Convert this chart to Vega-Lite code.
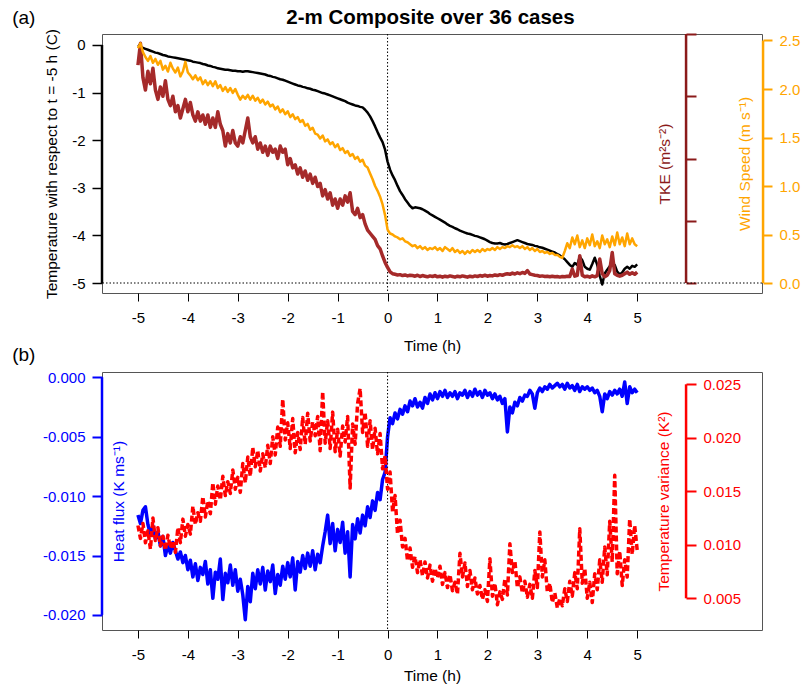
{
  "$schema": "https://vega.github.io/schema/vega-lite/v6.json",
  "autosize": {"type": "pad"},
  "padding": {"left": 11, "top": 7, "right": 0, "bottom": 0},
  "background": "white",
  "bounds": "flush",
  "spacing": 79,
  "config": {
    "view": {"stroke": "#555", "strokeWidth": 1},
    "font": "Liberation Sans",
    "axis": {"labelFont": "Liberation Sans", "labelFontSize": 15, "titleFont": "Liberation Sans", "titleFontSize": 15.5, "titleFontWeight": "normal", "grid": false, "labelColor": "black", "titleColor": "black", "tickColor": "black"}
  },
  "datasets": {
    "a": [
      {"t":-5.00,"T":0.00,"W":2.42,"K":0.70},{"t":-4.95,"T":-0.04,"W":2.47,"K":0.77},{"t":-4.90,"T":-0.06,"W":2.38,"K":0.66},{"t":-4.85,"T":-0.08,"W":2.33,"K":0.62},{"t":-4.80,"T":-0.10,"W":2.29,"K":0.68},{"t":-4.75,"T":-0.12,"W":2.34,"K":0.64},{"t":-4.70,"T":-0.14,"W":2.27,"K":0.69},{"t":-4.65,"T":-0.16,"W":2.31,"K":0.62},{"t":-4.60,"T":-0.17,"W":2.25,"K":0.59},{"t":-4.55,"T":-0.19,"W":2.29,"K":0.63},
      {"t":-4.50,"T":-0.21,"W":2.20,"K":0.60},{"t":-4.45,"T":-0.22,"W":2.24,"K":0.65},{"t":-4.40,"T":-0.24,"W":2.18,"K":0.59},{"t":-4.35,"T":-0.25,"W":2.27,"K":0.57},{"t":-4.30,"T":-0.26,"W":2.21,"K":0.60},{"t":-4.25,"T":-0.27,"W":2.17,"K":0.55},{"t":-4.20,"T":-0.28,"W":2.22,"K":0.57},{"t":-4.15,"T":-0.29,"W":2.13,"K":0.53},{"t":-4.10,"T":-0.30,"W":2.18,"K":0.56},{"t":-4.05,"T":-0.31,"W":2.28,"K":0.59},
      {"t":-4.00,"T":-0.32,"W":2.17,"K":0.55},{"t":-3.95,"T":-0.33,"W":2.14,"K":0.58},{"t":-3.90,"T":-0.35,"W":2.10,"K":0.54},{"t":-3.85,"T":-0.36,"W":2.14,"K":0.52},{"t":-3.80,"T":-0.37,"W":2.09,"K":0.55},{"t":-3.75,"T":-0.38,"W":2.12,"K":0.52},{"t":-3.70,"T":-0.40,"W":2.05,"K":0.54},{"t":-3.65,"T":-0.41,"W":2.09,"K":0.51},{"t":-3.60,"T":-0.43,"W":2.04,"K":0.54},{"t":-3.55,"T":-0.44,"W":2.08,"K":0.50},
      {"t":-3.50,"T":-0.46,"W":2.03,"K":0.53},{"t":-3.45,"T":-0.47,"W":2.08,"K":0.50},{"t":-3.40,"T":-0.49,"W":2.01,"K":0.55},{"t":-3.35,"T":-0.50,"W":2.04,"K":0.51},{"t":-3.30,"T":-0.51,"W":1.98,"K":0.49},{"t":-3.25,"T":-0.52,"W":2.02,"K":0.44},{"t":-3.20,"T":-0.52,"W":1.97,"K":0.48},{"t":-3.15,"T":-0.53,"W":2.01,"K":0.45},{"t":-3.10,"T":-0.54,"W":1.96,"K":0.49},{"t":-3.05,"T":-0.54,"W":2.00,"K":0.45},
      {"t":-3.00,"T":-0.55,"W":1.94,"K":0.44},{"t":-2.95,"T":-0.55,"W":1.89,"K":0.47},{"t":-2.90,"T":-0.56,"W":1.93,"K":0.45},{"t":-2.85,"T":-0.55,"W":1.90,"K":0.49},{"t":-2.80,"T":-0.55,"W":1.94,"K":0.53},{"t":-2.75,"T":-0.56,"W":1.89,"K":0.47},{"t":-2.70,"T":-0.57,"W":1.93,"K":0.45},{"t":-2.65,"T":-0.58,"W":1.88,"K":0.47},{"t":-2.60,"T":-0.59,"W":1.91,"K":0.43},{"t":-2.55,"T":-0.60,"W":1.86,"K":0.45},
      {"t":-2.50,"T":-0.61,"W":1.89,"K":0.42},{"t":-2.45,"T":-0.62,"W":1.84,"K":0.44},{"t":-2.40,"T":-0.64,"W":1.87,"K":0.41},{"t":-2.35,"T":-0.65,"W":1.82,"K":0.44},{"t":-2.30,"T":-0.67,"W":1.84,"K":0.42},{"t":-2.25,"T":-0.68,"W":1.79,"K":0.43},{"t":-2.20,"T":-0.70,"W":1.82,"K":0.40},{"t":-2.15,"T":-0.72,"W":1.76,"K":0.44},{"t":-2.10,"T":-0.73,"W":1.79,"K":0.42},{"t":-2.05,"T":-0.75,"W":1.74,"K":0.43},
      {"t":-2.00,"T":-0.77,"W":1.77,"K":0.38},{"t":-1.95,"T":-0.79,"W":1.71,"K":0.40},{"t":-1.90,"T":-0.81,"W":1.74,"K":0.37},{"t":-1.85,"T":-0.83,"W":1.69,"K":0.38},{"t":-1.80,"T":-0.85,"W":1.71,"K":0.35},{"t":-1.75,"T":-0.86,"W":1.66,"K":0.37},{"t":-1.70,"T":-0.88,"W":1.68,"K":0.34},{"t":-1.65,"T":-0.89,"W":1.62,"K":0.36},{"t":-1.60,"T":-0.91,"W":1.64,"K":0.33},{"t":-1.55,"T":-0.92,"W":1.58,"K":0.35},
      {"t":-1.50,"T":-0.94,"W":1.60,"K":0.32},{"t":-1.45,"T":-0.95,"W":1.54,"K":0.34},{"t":-1.40,"T":-0.97,"W":1.53,"K":0.31},{"t":-1.35,"T":-0.99,"W":1.49,"K":0.32},{"t":-1.30,"T":-1.01,"W":1.52,"K":0.28},{"t":-1.25,"T":-1.02,"W":1.46,"K":0.30},{"t":-1.20,"T":-1.04,"W":1.48,"K":0.27},{"t":-1.15,"T":-1.06,"W":1.43,"K":0.29},{"t":-1.10,"T":-1.08,"W":1.45,"K":0.25},{"t":-1.05,"T":-1.10,"W":1.40,"K":0.27},
      {"t":-1.00,"T":-1.12,"W":1.43,"K":0.24},{"t":-0.95,"T":-1.14,"W":1.37,"K":0.27},{"t":-0.90,"T":-1.16,"W":1.39,"K":0.25},{"t":-0.85,"T":-1.18,"W":1.34,"K":0.28},{"t":-0.80,"T":-1.21,"W":1.36,"K":0.26},{"t":-0.75,"T":-1.23,"W":1.31,"K":0.29},{"t":-0.70,"T":-1.25,"W":1.33,"K":0.23},{"t":-0.65,"T":-1.27,"W":1.28,"K":0.22},{"t":-0.60,"T":-1.28,"W":1.30,"K":0.24},{"t":-0.55,"T":-1.30,"W":1.25,"K":0.21},
      {"t":-0.50,"T":-1.31,"W":1.27,"K":0.22},{"t":-0.45,"T":-1.36,"W":1.21,"K":0.19},{"t":-0.40,"T":-1.42,"W":1.19,"K":0.17},{"t":-0.35,"T":-1.50,"W":1.13,"K":0.16},{"t":-0.30,"T":-1.60,"W":1.07,"K":0.15},{"t":-0.25,"T":-1.71,"W":1.00,"K":0.14},{"t":-0.20,"T":-1.83,"W":0.95,"K":0.12},{"t":-0.15,"T":-1.94,"W":0.89,"K":0.11},{"t":-0.10,"T":-2.04,"W":0.81,"K":0.087},{"t":-0.05,"T":-2.20,"W":0.70,"K":0.066},
      {"t":0.00,"T":-2.45,"W":0.55,"K":0.050},{"t":0.05,"T":-2.62,"W":0.51,"K":0.036},{"t":0.10,"T":-2.74,"W":0.50,"K":0.030},{"t":0.15,"T":-2.84,"W":0.48,"K":0.028},{"t":0.20,"T":-2.96,"W":0.47,"K":0.026},{"t":0.25,"T":-3.07,"W":0.45,"K":0.027},{"t":0.30,"T":-3.15,"W":0.46,"K":0.024},{"t":0.35,"T":-3.24,"W":0.43,"K":0.026},{"t":0.40,"T":-3.31,"W":0.42,"K":0.023},{"t":0.45,"T":-3.38,"W":0.40,"K":0.025},
      {"t":0.50,"T":-3.43,"W":0.38,"K":0.024},{"t":0.55,"T":-3.41,"W":0.39,"K":0.022},{"t":0.60,"T":-3.42,"W":0.36,"K":0.025},{"t":0.65,"T":-3.43,"W":0.38,"K":0.021},{"t":0.70,"T":-3.45,"W":0.35,"K":0.024},{"t":0.75,"T":-3.48,"W":0.37,"K":0.022},{"t":0.80,"T":-3.51,"W":0.34,"K":0.020},{"t":0.85,"T":-3.55,"W":0.36,"K":0.023},{"t":0.90,"T":-3.58,"W":0.35,"K":0.021},{"t":0.95,"T":-3.61,"W":0.37,"K":0.024},
      {"t":1.00,"T":-3.64,"W":0.34,"K":0.020},{"t":1.05,"T":-3.67,"W":0.36,"K":0.022},{"t":1.10,"T":-3.70,"W":0.33,"K":0.019},{"t":1.15,"T":-3.73,"W":0.37,"K":0.022},{"t":1.20,"T":-3.77,"W":0.35,"K":0.020},{"t":1.25,"T":-3.80,"W":0.33,"K":0.023},{"t":1.30,"T":-3.82,"W":0.36,"K":0.021},{"t":1.35,"T":-3.85,"W":0.32,"K":0.019},{"t":1.40,"T":-3.87,"W":0.34,"K":0.022},{"t":1.45,"T":-3.90,"W":0.31,"K":0.020},
      {"t":1.50,"T":-3.92,"W":0.33,"K":0.023},{"t":1.55,"T":-3.94,"W":0.30,"K":0.021},{"t":1.60,"T":-3.96,"W":0.33,"K":0.019},{"t":1.65,"T":-3.97,"W":0.31,"K":0.022},{"t":1.70,"T":-3.99,"W":0.34,"K":0.020},{"t":1.75,"T":-4.01,"W":0.32,"K":0.023},{"t":1.80,"T":-4.02,"W":0.34,"K":0.021},{"t":1.85,"T":-4.04,"W":0.32,"K":0.024},{"t":1.90,"T":-4.06,"W":0.35,"K":0.022},{"t":1.95,"T":-4.08,"W":0.33,"K":0.025},
      {"t":2.00,"T":-4.11,"W":0.35,"K":0.022},{"t":2.05,"T":-4.14,"W":0.34,"K":0.024},{"t":2.10,"T":-4.16,"W":0.36,"K":0.023},{"t":2.15,"T":-4.17,"W":0.34,"K":0.026},{"t":2.20,"T":-4.17,"W":0.37,"K":0.024},{"t":2.25,"T":-4.16,"W":0.35,"K":0.027},{"t":2.30,"T":-4.18,"W":0.37,"K":0.025},{"t":2.35,"T":-4.19,"W":0.36,"K":0.028},{"t":2.40,"T":-4.18,"W":0.38,"K":0.030},{"t":2.45,"T":-4.16,"W":0.37,"K":0.028},
      {"t":2.50,"T":-4.14,"W":0.39,"K":0.032},{"t":2.55,"T":-4.12,"W":0.37,"K":0.029},{"t":2.60,"T":-4.10,"W":0.38,"K":0.033},{"t":2.65,"T":-4.12,"W":0.36,"K":0.030},{"t":2.70,"T":-4.14,"W":0.38,"K":0.034},{"t":2.75,"T":-4.16,"W":0.35,"K":0.031},{"t":2.80,"T":-4.18,"W":0.37,"K":0.040},{"t":2.85,"T":-4.19,"W":0.34,"K":0.029},{"t":2.90,"T":-4.20,"W":0.36,"K":0.027},{"t":2.95,"T":-4.22,"W":0.33,"K":0.025},
      {"t":3.00,"T":-4.23,"W":0.35,"K":0.024},{"t":3.05,"T":-4.25,"W":0.32,"K":0.022},{"t":3.10,"T":-4.26,"W":0.33,"K":0.023},{"t":3.15,"T":-4.28,"W":0.31,"K":0.021},{"t":3.20,"T":-4.30,"W":0.32,"K":0.022},{"t":3.25,"T":-4.32,"W":0.30,"K":0.020},{"t":3.30,"T":-4.34,"W":0.31,"K":0.022},{"t":3.35,"T":-4.36,"W":0.29,"K":0.020},{"t":3.40,"T":-4.39,"W":0.29,"K":0.021},{"t":3.45,"T":-4.42,"W":0.27,"K":0.019},
      {"t":3.50,"T":-4.46,"W":0.26,"K":0.021},{"t":3.55,"T":-4.50,"W":0.33,"K":0.020},{"t":3.60,"T":-4.56,"W":0.41,"K":0.022},{"t":3.65,"T":-4.62,"W":0.36,"K":0.021},{"t":3.70,"T":-4.66,"W":0.47,"K":0.045},{"t":3.75,"T":-4.58,"W":0.40,"K":0.022},{"t":3.80,"T":-4.62,"W":0.49,"K":0.025},{"t":3.85,"T":-4.45,"W":0.37,"K":0.088},{"t":3.90,"T":-4.52,"W":0.44,"K":0.025},{"t":3.95,"T":-4.66,"W":0.36,"K":0.020},
      {"t":4.00,"T":-4.70,"W":0.46,"K":0.022},{"t":4.05,"T":-4.72,"W":0.39,"K":0.019},{"t":4.10,"T":-4.60,"W":0.50,"K":0.023},{"t":4.15,"T":-4.47,"W":0.38,"K":0.020},{"t":4.20,"T":-4.62,"W":0.43,"K":0.024},{"t":4.25,"T":-4.85,"W":0.36,"K":0.077},{"t":4.30,"T":-5.03,"W":0.49,"K":0.030},{"t":4.35,"T":-4.80,"W":0.40,"K":0.020},{"t":4.40,"T":-4.72,"W":0.45,"K":0.025},{"t":4.45,"T":-4.65,"W":0.37,"K":0.040},
      {"t":4.50,"T":-4.58,"W":0.48,"K":0.098},{"t":4.55,"T":-4.62,"W":0.39,"K":0.030},{"t":4.60,"T":-4.76,"W":0.52,"K":0.025},{"t":4.65,"T":-4.82,"W":0.40,"K":0.022},{"t":4.70,"T":-4.78,"W":0.47,"K":0.025},{"t":4.75,"T":-4.70,"W":0.38,"K":0.030},{"t":4.80,"T":-4.66,"W":0.51,"K":0.035},{"t":4.85,"T":-4.70,"W":0.40,"K":0.028},{"t":4.90,"T":-4.64,"W":0.46,"K":0.033},{"t":4.95,"T":-4.66,"W":0.40,"K":0.028},
      {"t":5.00,"T":-4.61,"W":0.38,"K":0.035}
    ],
    "b": [
      {"t":-5.00,"H":-0.0116,"V":0.0118},{"t":-4.95,"H":-0.0123,"V":0.0106},{"t":-4.90,"H":-0.0112,"V":0.0120},{"t":-4.85,"H":-0.0109,"V":0.0102},{"t":-4.80,"H":-0.0124,"V":0.0113},{"t":-4.75,"H":-0.0132,"V":0.0096},{"t":-4.70,"H":-0.0125,"V":0.0125},{"t":-4.65,"H":-0.0136,"V":0.0104},{"t":-4.60,"H":-0.0130,"V":0.0116},{"t":-4.55,"H":-0.0142,"V":0.0099},
      {"t":-4.50,"H":-0.0134,"V":0.0108},{"t":-4.45,"H":-0.0150,"V":0.0095},{"t":-4.40,"H":-0.0141,"V":0.0109},{"t":-4.35,"H":-0.0148,"V":0.0097},{"t":-4.30,"H":-0.0139,"V":0.0104},{"t":-4.25,"H":-0.0146,"V":0.0093},{"t":-4.20,"H":-0.0153,"V":0.0116},{"t":-4.15,"H":-0.0147,"V":0.0102},{"t":-4.10,"H":-0.0156,"V":0.0124},{"t":-4.05,"H":-0.0150,"V":0.0108},
      {"t":-4.00,"H":-0.0162,"V":0.0119},{"t":-3.95,"H":-0.0154,"V":0.0110},{"t":-3.90,"H":-0.0168,"V":0.0136},{"t":-3.85,"H":-0.0157,"V":0.0119},{"t":-3.80,"H":-0.0171,"V":0.0130},{"t":-3.75,"H":-0.0160,"V":0.0122},{"t":-3.70,"H":-0.0166,"V":0.0145},{"t":-3.65,"H":-0.0155,"V":0.0126},{"t":-3.60,"H":-0.0174,"V":0.0141},{"t":-3.55,"H":-0.0162,"V":0.0129},
      {"t":-3.50,"H":-0.0186,"V":0.0158},{"t":-3.45,"H":-0.0164,"V":0.0138},{"t":-3.40,"H":-0.0170,"V":0.0155},{"t":-3.35,"H":-0.0153,"V":0.0142},{"t":-3.30,"H":-0.0187,"V":0.0164},{"t":-3.25,"H":-0.0165,"V":0.0146},{"t":-3.20,"H":-0.0173,"V":0.0159},{"t":-3.15,"H":-0.0158,"V":0.0148},{"t":-3.10,"H":-0.0175,"V":0.0170},{"t":-3.05,"H":-0.0162,"V":0.0152},
      {"t":-3.00,"H":-0.0180,"V":0.0163},{"t":-2.95,"H":-0.0170,"V":0.0149},{"t":-2.90,"H":-0.0183,"V":0.0176},{"t":-2.85,"H":-0.0204,"V":0.0158},{"t":-2.80,"H":-0.0176,"V":0.0182},{"t":-2.75,"H":-0.0189,"V":0.0164},{"t":-2.70,"H":-0.0165,"V":0.0191},{"t":-2.65,"H":-0.0178,"V":0.0173},{"t":-2.60,"H":-0.0162,"V":0.0188},{"t":-2.55,"H":-0.0174,"V":0.0169},
      {"t":-2.50,"H":-0.0160,"V":0.0185},{"t":-2.45,"H":-0.0179,"V":0.0172},{"t":-2.40,"H":-0.0163,"V":0.0193},{"t":-2.35,"H":-0.0172,"V":0.0176},{"t":-2.30,"H":-0.0158,"V":0.0201},{"t":-2.25,"H":-0.0182,"V":0.0184},{"t":-2.20,"H":-0.0166,"V":0.0210},{"t":-2.15,"H":-0.0175,"V":0.0192},{"t":-2.10,"H":-0.0159,"V":0.0236},{"t":-2.05,"H":-0.0170,"V":0.0198},
      {"t":-2.00,"H":-0.0156,"V":0.0214},{"t":-1.95,"H":-0.0168,"V":0.0190},{"t":-1.90,"H":-0.0152,"V":0.0218},{"t":-1.85,"H":-0.0179,"V":0.0186},{"t":-1.80,"H":-0.0155,"V":0.0205},{"t":-1.75,"H":-0.0164,"V":0.0189},{"t":-1.70,"H":-0.0150,"V":0.0219},{"t":-1.65,"H":-0.0161,"V":0.0194},{"t":-1.60,"H":-0.0148,"V":0.0223},{"t":-1.55,"H":-0.0159,"V":0.0197},
      {"t":-1.50,"H":-0.0146,"V":0.0215},{"t":-1.45,"H":-0.0162,"V":0.0202},{"t":-1.40,"H":-0.0149,"V":0.0220},{"t":-1.35,"H":-0.0156,"V":0.0188},{"t":-1.30,"H":-0.0142,"V":0.0243},{"t":-1.25,"H":-0.0130,"V":0.0195},{"t":-1.20,"H":-0.0116,"V":0.0216},{"t":-1.15,"H":-0.0140,"V":0.0190},{"t":-1.10,"H":-0.0123,"V":0.0224},{"t":-1.05,"H":-0.0146,"V":0.0187},
      {"t":-1.00,"H":-0.0128,"V":0.0208},{"t":-0.95,"H":-0.0139,"V":0.0183},{"t":-0.90,"H":-0.0122,"V":0.0211},{"t":-0.85,"H":-0.0148,"V":0.0196},{"t":-0.80,"H":-0.0130,"V":0.0220},{"t":-0.75,"H":-0.0168,"V":0.0153},{"t":-0.70,"H":-0.0124,"V":0.0213},{"t":-0.65,"H":-0.0136,"V":0.0194},{"t":-0.60,"H":-0.0119,"V":0.0232},{"t":-0.55,"H":-0.0131,"V":0.0246},
      {"t":-0.50,"H":-0.0116,"V":0.0205},{"t":-0.45,"H":-0.0125,"V":0.0224},{"t":-0.40,"H":-0.0109,"V":0.0192},{"t":-0.35,"H":-0.0118,"V":0.0216},{"t":-0.30,"H":-0.0104,"V":0.0189},{"t":-0.25,"H":-0.0112,"V":0.0209},{"t":-0.20,"H":-0.0097,"V":0.0185},{"t":-0.15,"H":-0.0103,"V":0.0204},{"t":-0.10,"H":-0.0086,"V":0.0171},{"t":-0.05,"H":-0.0080,"V":0.0183},
      {"t":0.00,"H":-0.0050,"V":0.0152},{"t":0.05,"H":-0.0034,"V":0.0168},{"t":0.10,"H":-0.0039,"V":0.0131},{"t":0.15,"H":-0.0030,"V":0.0146},{"t":0.20,"H":-0.0035,"V":0.0110},{"t":0.25,"H":-0.0027,"V":0.0123},{"t":0.30,"H":-0.0031,"V":0.0098},{"t":0.35,"H":-0.0024,"V":0.0106},{"t":0.40,"H":-0.0029,"V":0.0085},{"t":0.45,"H":-0.0020,"V":0.0097},
      {"t":0.50,"H":-0.0024,"V":0.0079},{"t":0.55,"H":-0.0018,"V":0.0089},{"t":0.60,"H":-0.0025,"V":0.0074},{"t":0.65,"H":-0.0021,"V":0.0086},{"t":0.70,"H":-0.0026,"V":0.0071},{"t":0.75,"H":-0.0017,"V":0.0084},{"t":0.80,"H":-0.0022,"V":0.0069},{"t":0.85,"H":-0.0014,"V":0.0081},{"t":0.90,"H":-0.0019,"V":0.0066},{"t":0.95,"H":-0.0013,"V":0.0078},
      {"t":1.00,"H":-0.0018,"V":0.0069},{"t":1.05,"H":-0.0012,"V":0.0080},{"t":1.10,"H":-0.0016,"V":0.0063},{"t":1.15,"H":-0.0011,"V":0.0074},{"t":1.20,"H":-0.0017,"V":0.0060},{"t":1.25,"H":-0.0013,"V":0.0072},{"t":1.30,"H":-0.0016,"V":0.0057},{"t":1.35,"H":-0.0012,"V":0.0065},{"t":1.40,"H":-0.0018,"V":0.0054},{"t":1.45,"H":-0.0013,"V":0.0092},
      {"t":1.50,"H":-0.0015,"V":0.0070},{"t":1.55,"H":-0.0011,"V":0.0083},{"t":1.60,"H":-0.0017,"V":0.0061},{"t":1.65,"H":-0.0012,"V":0.0076},{"t":1.70,"H":-0.0016,"V":0.0058},{"t":1.75,"H":-0.0010,"V":0.0069},{"t":1.80,"H":-0.0015,"V":0.0054},{"t":1.85,"H":-0.0012,"V":0.0062},{"t":1.90,"H":-0.0017,"V":0.0049},{"t":1.95,"H":-0.0011,"V":0.0058},
      {"t":2.00,"H":-0.0015,"V":0.0047},{"t":2.05,"H":-0.0013,"V":0.0087},{"t":2.10,"H":-0.0018,"V":0.0052},{"t":2.15,"H":-0.0014,"V":0.0064},{"t":2.20,"H":-0.0019,"V":0.0044},{"t":2.25,"H":-0.0016,"V":0.0056},{"t":2.30,"H":-0.0022,"V":0.0049},{"t":2.35,"H":-0.0018,"V":0.0068},{"t":2.40,"H":-0.0046,"V":0.0053},{"t":2.45,"H":-0.0025,"V":0.0101},
      {"t":2.50,"H":-0.0030,"V":0.0074},{"t":2.55,"H":-0.0021,"V":0.0085},{"t":2.60,"H":-0.0024,"V":0.0060},{"t":2.65,"H":-0.0017,"V":0.0070},{"t":2.70,"H":-0.0020,"V":0.0055},{"t":2.75,"H":-0.0015,"V":0.0066},{"t":2.80,"H":-0.0016,"V":0.0051},{"t":2.85,"H":-0.0011,"V":0.0063},{"t":2.90,"H":-0.0014,"V":0.0050},{"t":2.95,"H":-0.0026,"V":0.0076},
      {"t":3.00,"H":-0.0013,"V":0.0060},{"t":3.05,"H":-0.0009,"V":0.0112},{"t":3.10,"H":-0.0012,"V":0.0070},{"t":3.15,"H":-0.0008,"V":0.0086},{"t":3.20,"H":-0.0010,"V":0.0056},{"t":3.25,"H":-0.0006,"V":0.0064},{"t":3.30,"H":-0.0009,"V":0.0046},{"t":3.35,"H":-0.0007,"V":0.0055},{"t":3.40,"H":-0.0005,"V":0.0041},{"t":3.45,"H":-0.0008,"V":0.0050},
      {"t":3.50,"H":-0.0006,"V":0.0043},{"t":3.55,"H":-0.0010,"V":0.0059},{"t":3.60,"H":-0.0005,"V":0.0047},{"t":3.65,"H":-0.0009,"V":0.0066},{"t":3.70,"H":-0.0007,"V":0.0052},{"t":3.75,"H":-0.0011,"V":0.0074},{"t":3.80,"H":-0.0006,"V":0.0059},{"t":3.85,"H":-0.0012,"V":0.0115},{"t":3.90,"H":-0.0008,"V":0.0064},{"t":3.95,"H":-0.0010,"V":0.0078},
      {"t":4.00,"H":-0.0008,"V":0.0050},{"t":4.05,"H":-0.0011,"V":0.0065},{"t":4.10,"H":-0.0009,"V":0.0046},{"t":4.15,"H":-0.0013,"V":0.0073},{"t":4.20,"H":-0.0011,"V":0.0058},{"t":4.25,"H":-0.0016,"V":0.0086},{"t":4.30,"H":-0.0029,"V":0.0065},{"t":4.35,"H":-0.0014,"V":0.0098},{"t":4.40,"H":-0.0018,"V":0.0072},{"t":4.45,"H":-0.0012,"V":0.0122},
      {"t":4.50,"H":-0.0015,"V":0.0084},{"t":4.55,"H":-0.0011,"V":0.0165},{"t":4.60,"H":-0.0014,"V":0.0073},{"t":4.65,"H":-0.0010,"V":0.0094},{"t":4.70,"H":-0.0016,"V":0.0062},{"t":4.75,"H":-0.0004,"V":0.0086},{"t":4.80,"H":-0.0022,"V":0.0070},{"t":4.85,"H":-0.0008,"V":0.0124},{"t":4.90,"H":-0.0013,"V":0.0091},{"t":4.95,"H":-0.0010,"V":0.0118},
      {"t":5.00,"H":-0.0013,"V":0.0095}
    ]
  },
  "vconcat": [
    {
      "width": 660,
      "height": 259,
      "layer": [
        {
          "layer": [
            {
              "data": {"name": "a"},
              "mark": {"type": "line", "color": "black", "strokeWidth": 2.5, "strokeJoin": "round"},
              "encoding": {
                "x": {"field": "t", "type": "quantitative", "scale": {"domain": [-5.72, 7.5], "nice": false, "zero": false},
                  "axis": {"values": [-5,-4,-3,-2,-1,0,1,2,3,4,5], "title": "Time (h)", "domain": false, "tickSize": 8, "labelPadding": 9, "titlePadding": 13, "labelExpr": "replace(datum.label, '−', '-')", "labelFlush": false, "labelOverlap": false}},
                "y": {"field": "T", "type": "quantitative", "scale": {"domain": [-5.21, 0.231], "nice": false, "zero": false},
                  "axis": {"orient": "left", "values": [0,-1,-2,-3,-4,-5], "domain": false, "tickSize": 10, "tickWidth": 1.5, "labelPadding": 7, "labelExpr": "replace(datum.label, '−', '-')", "title": "Temperature with respect to t = -5 h (C)", "titleAngle": 270, "titleX": -51, "titleY": 129.5, "titleAlign": "center", "titleBaseline": "middle"}}
              }
            },
            {
              "data": {"values": [{"ref": -5}]},
              "mark": {"type": "rule", "color": "black", "strokeWidth": 1, "strokeDash": [1.5, 2]},
              "encoding": {"y": {"field": "ref", "type": "quantitative", "scale": {"domain": [-5.21, 0.231], "nice": false, "zero": false}}}
            },
            {
              "data": {"values": [{"ref": 0}]},
              "mark": {"type": "rule", "color": "black", "strokeWidth": 1, "strokeDash": [1.5, 2]},
              "encoding": {"x": {"field": "ref", "type": "quantitative"}}
            },
            {
              "data": {"values": [{}]},
              "mark": {"type": "rule", "color": "black", "strokeWidth": 2.5},
              "encoding": {"x": {"datum": -5.72}, "y": {"datum": -5, "scale": {"domain": [-5.21, 0.231], "nice": false, "zero": false}}, "y2": {"datum": 0}}
            },
            {
              "data": {"values": [{"label": "(a)"}]},
              "mark": {"type": "text", "align": "left", "baseline": "middle", "fontSize": 19, "font": "Liberation Sans", "color": "black"},
              "encoding": {"x": {"datum": -7.52}, "y": {"datum": 0.557, "scale": {"domain": [-5.21, 0.231], "nice": false, "zero": false}}, "text": {"field": "label"}}
            },
            {
              "data": {"values": [{"label": "2-m Composite over 36 cases"}]},
              "mark": {"type": "text", "align": "center", "baseline": "middle", "fontSize": 20.5, "fontWeight": "bold", "font": "Liberation Sans", "color": "black"},
              "encoding": {"x": {"datum": 0.86}, "y": {"datum": 0.557, "scale": {"domain": [-5.21, 0.231], "nice": false, "zero": false}}, "text": {"field": "label"}}
            }
          ]
        },
        {
          "layer": [
            {
              "data": {"name": "a"},
              "mark": {"type": "line", "color": "#A52A2A", "strokeWidth": 3.5, "strokeJoin": "round"},
              "encoding": {
                "x": {"field": "t", "type": "quantitative"},
                "y": {"field": "K", "type": "quantitative", "scale": {"domain": [-0.032, 0.8], "nice": false, "zero": false},
                  "axis": {"orient": "right", "offset": -76, "values": [0,0.1,0.2,0.3,0.4,0.5,0.6,0.7,0.8], "domain": false, "tickSize": 10, "tickWidth": 2, "tickColor": "#8B1A1A", "labelColor": "#8B1A1A", "labelPadding": 7, "labelExpr": "round(datum.value*10) % 2 == 1 ? format(datum.value, '.1f') : ''", "title": "TKE (m²s⁻²)", "titleColor": "#8B1A1A", "titleAngle": 270, "titleX": -21.5, "titleY": 129.5, "titleAlign": "center", "titleBaseline": "middle"}}
              }
            },
            {
              "data": {"values": [{}]},
              "mark": {"type": "rule", "color": "#8B1A1A", "strokeWidth": 2.5},
              "encoding": {"x": {"datum": 5.979}, "y": {"datum": 0, "scale": {"domain": [-0.032, 0.8], "nice": false, "zero": false}}, "y2": {"datum": 0.8}}
            }
          ]
        },
        {
          "layer": [
            {
              "data": {"name": "a"},
              "mark": {"type": "line", "color": "#FFA500", "strokeWidth": 2.5, "strokeJoin": "round"},
              "encoding": {
                "x": {"field": "t", "type": "quantitative"},
                "y": {"field": "W", "type": "quantitative", "scale": {"domain": [-0.103, 2.567], "nice": false, "zero": false},
                  "axis": {"orient": "right", "offset": 1, "values": [0,0.5,1,1.5,2,2.5], "format": ".1f", "domain": false, "tickSize": 9, "tickWidth": 2, "tickColor": "#FFA500", "labelColor": "#FFA500", "labelPadding": 7, "title": "Wind Speed (m s⁻¹)", "titleColor": "#FFA500", "titleAngle": 270, "titleX": -19, "titleY": 129.5, "titleAlign": "center", "titleBaseline": "middle"}}
              }
            },
            {
              "data": {"values": [{}]},
              "mark": {"type": "rule", "color": "#FFA500", "strokeWidth": 2.5},
              "encoding": {"x": {"datum": 7.521}, "y": {"datum": 0, "scale": {"domain": [-0.103, 2.567], "nice": false, "zero": false}}, "y2": {"datum": 2.5}}
            }
          ]
        }
      ],
      "resolve": {"scale": {"y": "independent"}}
    },
    {
      "width": 660,
      "height": 258,
      "layer": [
        {
          "layer": [
            {
              "data": {"name": "b"},
              "mark": {"type": "line", "color": "#0000FF", "strokeWidth": 3.5, "strokeJoin": "round"},
              "encoding": {
                "x": {"field": "t", "type": "quantitative", "scale": {"domain": [-5.72, 7.5], "nice": false, "zero": false},
                  "axis": {"values": [-5,-4,-3,-2,-1,0,1,2,3,4,5], "title": "Time (h)", "domain": false, "tickSize": 8, "labelPadding": 9, "titlePadding": 6.5, "labelExpr": "replace(datum.label, '−', '-')", "labelFlush": false, "labelOverlap": false}},
                "y": {"field": "H", "type": "quantitative", "scale": {"domain": [-0.02127, 0.000446], "nice": false, "zero": false},
                  "axis": {"orient": "left", "values": [0,-0.005,-0.01,-0.015,-0.02], "domain": false, "tickSize": 10, "tickWidth": 2, "tickColor": "#0000FF", "labelColor": "#0000FF", "labelPadding": 7, "labelExpr": "replace(format(datum.value, '.3f'), '−', '-')", "title": "Heat flux (K ms⁻¹)", "titleColor": "#0000FF", "titleAngle": 270, "titleX": 16, "titleY": 129, "titleAlign": "center", "titleBaseline": "middle"}}
              }
            },
            {
              "data": {"values": [{"ref": 0}]},
              "mark": {"type": "rule", "color": "black", "strokeWidth": 1, "strokeDash": [1.5, 2]},
              "encoding": {"x": {"field": "ref", "type": "quantitative"}}
            },
            {
              "data": {"values": [{}]},
              "mark": {"type": "rule", "color": "#0000FF", "strokeWidth": 2.5},
              "encoding": {"x": {"datum": -5.72}, "y": {"datum": -0.02, "scale": {"domain": [-0.02127, 0.000446], "nice": false, "zero": false}}, "y2": {"datum": 0}}
            },
            {
              "data": {"values": [{"label": "(b)"}]},
              "mark": {"type": "text", "align": "left", "baseline": "middle", "fontSize": 19, "font": "Liberation Sans", "color": "black"},
              "encoding": {"x": {"datum": -7.52}, "y": {"datum": 0.00188, "scale": {"domain": [-0.02127, 0.000446], "nice": false, "zero": false}}, "text": {"field": "label"}}
            }
          ]
        },
        {
          "layer": [
            {
              "data": {"name": "b"},
              "mark": {"type": "line", "color": "#FF0000", "strokeWidth": 3.5, "strokeDash": [6, 3], "strokeJoin": "round"},
              "encoding": {
                "x": {"field": "t", "type": "quantitative"},
                "y": {"field": "V", "type": "quantitative", "scale": {"domain": [0.002037, 0.02615], "nice": false, "zero": false},
                  "axis": {"orient": "right", "offset": -76, "values": [0.005,0.01,0.015,0.02,0.025], "format": ".3f", "domain": false, "tickSize": 10, "tickWidth": 2, "tickColor": "#FF0000", "labelColor": "#FF0000", "labelPadding": 7, "title": "Temperature variance (K²)", "titleColor": "#FF0000", "titleAngle": 270, "titleX": -22.5, "titleY": 129, "titleAlign": "center", "titleBaseline": "middle"}}
              }
            },
            {
              "data": {"values": [{}]},
              "mark": {"type": "rule", "color": "#FF0000", "strokeWidth": 2.5},
              "encoding": {"x": {"datum": 5.979}, "y": {"datum": 0.005, "scale": {"domain": [0.002037, 0.02615], "nice": false, "zero": false}}, "y2": {"datum": 0.025}}
            }
          ]
        }
      ],
      "resolve": {"scale": {"y": "independent"}}
    }
  ]
}
